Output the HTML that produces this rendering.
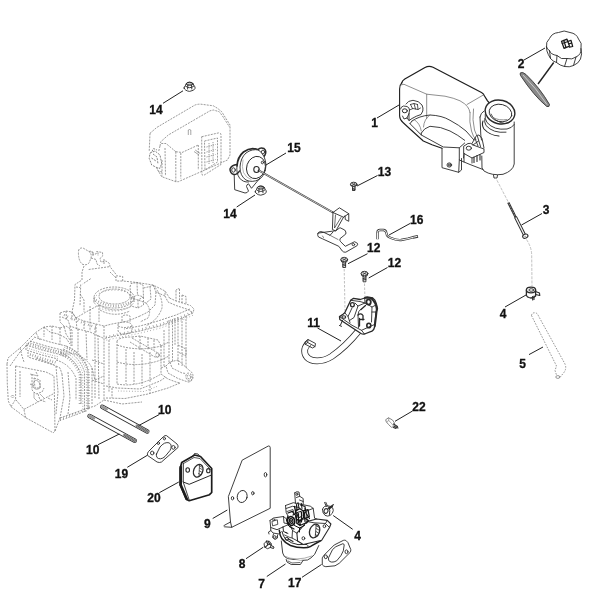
<!DOCTYPE html>
<html><head><meta charset="utf-8">
<style>
html,body{margin:0;padding:0;background:#fff;}
body{width:600px;height:600px;overflow:hidden;font-family:"Liberation Sans",sans-serif;}
svg{display:block}
.t{font-family:"Liberation Sans",sans-serif;font-weight:bold;font-size:12px;fill:#111;stroke:#111;stroke-width:0.3px;text-anchor:middle}
.ld{stroke:#222;stroke-width:1;fill:none}
.p{stroke:#2a2a2a;stroke-width:0.9;fill:none;stroke-linejoin:round;stroke-linecap:round}
.pw{stroke:#2a2a2a;stroke-width:0.9;fill:#fff;stroke-linejoin:round;stroke-linecap:round}
.pt{stroke:#222;stroke-width:1.5;fill:none;stroke-linejoin:round;stroke-linecap:round}
.d{stroke:#808080;stroke-width:0.8;fill:none;stroke-dasharray:2 1.1;stroke-linejoin:round}
.dl{stroke:#b0b0b0;stroke-width:0.8;fill:none;stroke-dasharray:2.5 1.5}
.g{stroke:#777;stroke-width:0.7;fill:none}
</style></head><body>
<svg width="600" height="600" viewBox="0 0 600 600">
<rect width="600" height="600" fill="#fff"/>

<!-- ENGINE -->
<g id="engine" class="d">
<!--ENG-->
<!-- Area A: crankcase top -->
<path d="M78.500 251 Q79 247.500 83 248 L89 251.500 Q92 254 91 258 L89 263 Q86 266 82 264 Q78 260 78.500 251 Z"/>
<path d="M89 251.500 L92 251 L92.500 254.500 L96 254 L96.500 251.500 L102.500 252.500 L102.700 256 L100 258.500 L101 262 L106 261 L109.500 263.500 L110 266.700 L117.300 276 L122.700 276.500 L122.700 281 L137 282.500 L153 285 L165 291 L169.500 298"/>
<path d="M88.700 269.500 L109.300 266.700 M91 258 L96 259.500 L97 264 L100 266 M93 252 L93 256 M98 252.500 L98 256 M104 259 L104 264"/>
<path d="M84 266 L82 272 L82 280 L75 284.500 L74.500 300 L72 312 L76 318"/>
<path d="M80.700 284.500 L80 306 M90.700 278.700 L82.700 284 M76 287 L80 287.500"/>
<path d="M116 276 L116 281 L122.700 281 M110 272 L116 278"/>

<!-- bearing ring -->
<ellipse cx="114" cy="297.500" rx="20" ry="10.500"/>
<ellipse cx="114.500" cy="296.500" rx="15.500" ry="7.500"/>
<ellipse cx="114" cy="300.500" rx="20" ry="10.500" stroke-dasharray="1 2.200"/>
<path d="M94 297.500 L94 303 M134 297.500 L134 302"/>
<path d="M99 305 Q113 314 131 306.500" />
<path d="M100 310 Q114 318 130 311" />
<!-- right box/boss -->
<path d="M130 287 L131 283.500 L137 282.500 L143 285 L143.500 297 L138 300 L131 298 Z M137 282.500 L137.500 295 L143.500 297 M131 298 L137.500 295"/>
<path d="M143.500 288 L150 286.500 L153 285 M150 286.500 L151 299 L146 303 L138 300"/>
<path d="M153 285 L156 292 L165 296 L165 291"/>
<path d="M156 292 L155 305 L148 312 L140 316"/>
<!-- right flange + posts -->
<path d="M169.500 298 L176 301 L190.500 305.500 L194 309 L193 313"/>
<path d="M176 290.500 L176 301 M179.500 289 L179.500 302 M176 290.500 L177.500 288.500 L179.500 289"/>
<path d="M182 295 L186 296.500 L186 304 M182 295 L182 303"/>
<path d="M165 296 L168 302 L176 305.500 L188 309.500 L193 313"/>
<!-- lower edge of crankcase with marks -->
<path d="M193 313 L180 319 L160 326 L140 331 L120 335 L104 338.500"/>
<path d="M193 313 L180 319 L160 326 L140 331 L120 335 L104 338.500" transform="translate(0 2.200)" stroke-dasharray="0.800 2.400"/>
<path d="M190 309 L176 315 L158 321 L140 326 L124 329"/>
<!-- left part of flange -->
<path d="M60 313 L66 311 L72 312 L76 318 L84 321 L96 324 L104 326"/>
<path d="M62 317 L68 320 L70 326 L78 329 L90 332 L104 338.500"/>
<path d="M66 311 L66.500 319 M72 312 L72 321"/>
<path d="M84 321 L84 329 M96 324 L96 333"/>
<path d="M76 318 L86 312 L99 305 M140 316 L128 321 L112 324 L104 326"/>
<!-- Area C: cylinder block -->
<path d="M118 325 Q118 322 125 322 Q132 322.500 132 326 L132 332 Q128 334.500 122 334 Q118 333 118 330 Z M118 326 Q124 329 132 326"/>
<path d="M104 326 L104 400 M95 328 L95 398 M109 340 L109 392"/>
<path d="M117 341 L117 384 M161 346 L161 374"/>
<path d="M117 341 Q119 337 132 337 M117 345 Q138 352 161 346 M132 337 L140 336 L158 340 L161 346"/>
<path d="M117 384 Q138 388 161 374"/>
<path d="M134 352 L134 384 M126 349 L126 384"/>
<path d="M132 338 L157 352.500 Q160 354.500 159 356.500 Q157 358 154 356.500 L130 342"/>
<ellipse cx="157.500" cy="355" rx="1.800" ry="2.200"/>
<!-- right post -->
<path d="M169 320 L169 364 M172.500 319 L172.500 362 M178 317 L178 360 M175 318 L175 345"/>
<!-- right-bottom boss -->
<path d="M166 366 L170 362 L178 360 L190 371 Q193.500 373 193 377.500 Q192 382 188 382 L178 378.500 L168 373 Z"/>
<ellipse cx="189" cy="377" rx="3" ry="4" transform="rotate(-20 189 377)"/>
<ellipse cx="189" cy="377" rx="1.500" ry="2.200" transform="rotate(-20 189 377)"/>
<path d="M170 362 L172 368 L182 373 L186 373.500 M178 360 L179 366"/>
<path d="M161 368 L166 366 M161 374 L168 379 L176 382 L180 383"/>
<!-- base flange -->
<path d="M106 386 L117 388 L140 389 L160 381 L166 377"/>
<path d="M106 398 L125 398.500 L148 394 L168 388 L180 383"/>
<path d="M104 400 L122 404 L142 402 M112 388 L112 398 M150 386 L150 393.500"/>
<path d="M118 391 L144 391.500 L158 386" stroke-dasharray="0.800 2"/>
<!-- Area B: head -->
<path d="M7 364 L8 358 L20 348 L35 333 L44 327 L52 326 L60 328"/>
<path d="M7 364 L7.300 384 L8.300 401 L11 406.700 L25.700 417.700 L40 425.500 L53.200 432.800 L55 431"/>
<path d="M10 366 L20 352 L34 338"/>
<path d="M15.600 366 L46 372 L54 376 L54.500 400 L55 431"/>
<path d="M15.600 366 L15.600 399.400 L23.900 409.400 L53.200 393.900 M11 406.700 L15.600 399.400 M25.700 417.700 L23.900 409.400"/>
<path d="M20 371 L20 397"/>
<!-- inner mechanism -->
<path d="M32 374 L32 390 L36 394 L42 392 L44 388 M34 378 L40 380 L40 388 L35 388 Z M36 372 L38 376 M30 384 L34 386"/>
<path d="M38 394 L40 400 L46 402 M48 398 L52 400" />
<!-- head fins top -->
<path d="M26 345 L42 350 L58 354 L66 357 M30 341 L46 346 L62 350 L70 353 M34 337 L50 342 L66 346"/>
<path d="M26 345 L26 350 L42 355 L58 359 M28 352 L28 357 L44 362 L54 365"/>
<path d="M26 345 L26 350 L42 355 L58 359" transform="translate(1 -2)" stroke-dasharray="0.800 1.600"/>
<path d="M30 341 L46 346 L62 350 L70 353" transform="translate(0.500 2)" stroke-dasharray="0.800 1.600"/>
<path d="M44 327 L44 337 M52 326 L52 340 M60 328 L60 345"/>
<path d="M20 348 L22 356 L24 362 M36 358 L52 364 L60 368 L62 374"/>
<!-- cylinder fins (curved) -->
<path d="M66 346 Q82 352 88 370 L88 410"/>
<path d="M63 349 Q79 355 84.500 372 L84.500 412"/>
<path d="M60 352 Q75 358 81 374 L81 404"/>
<path d="M66 346 Q82 352 88 370 L88 410" transform="translate(-1.600 1.400)" stroke-dasharray="0.800 1.800"/>
<path d="M63 349 Q79 355 84.500 372 L84.500 412" transform="translate(-1.700 1.500)" stroke-dasharray="0.800 1.800"/>
<path d="M70 353 Q86 356 92 368 L95 380"/>
<path d="M56 360 Q70 364 76 378 L76 400"/>
<!-- bottom of head with marks -->
<path d="M60 418 L74 413 L88 408"/>
<path d="M60 420.500 L74 415.500 L86 411" stroke-dasharray="1.200 1.800"/>
<path d="M55 431 L60 418"/>
<path d="M88 408 L95 406 L104 400"/>
<path d="M62 374 L64 396 L60 418"/>

<!--ENG2-->
<!-- extra density -->
<g stroke-dasharray="0.700 1.900" stroke-width="2.600" stroke="#8c8c8c">
<path d="M67 347.500 Q82.500 353.500 88.500 371 L88.500 409"/>
<path d="M61 354 Q75 360 80 375 L80 404"/>
<path d="M28 343.500 L44 348.500 L60 352.500 L68 355.500"/>
<path d="M30 354.500 L44 359 L56 362.500"/>
<path d="M60 419.500 L74 414.500 L87 409.500" stroke-dasharray="0.700 2.600"/>
<path d="M96 300 Q114 311.500 133 300.500" stroke-width="2.200"/>
<path d="M106 337 L122 333.500 L140 329.500 L160 324.500 L180 317.500 L192 312" stroke-width="2.200" stroke-dasharray="0.700 3"/>
<path d="M64 315 L72 318.500 L84 323.500 L98 328" stroke-width="2.200" stroke-dasharray="0.700 3"/>
</g>
<path d="M153 285 Q163 296 162 308 Q158 320 146 326"/>
<path d="M146 303 Q152 310 148 318 L140 322"/>
<path d="M131 298 L131 306 L138 308 L138 300 M143.500 297 L143.500 305 L138 308"/>
<path d="M122 321 L122 316 Q126 314 130 316 L130 322"/>
<path d="M99 305 L99 322 M90 306 L90 331"/>
<path d="M76 318 L77 330 M80 294 L84 300 L84 312"/>
<path d="M60 313 L60 322 L64 326 L66 334 L70 340"/>
<path d="M70 326 L71 346 M78 329 L78 352 M86 331 L87 360"/>
<path d="M98 335 L99 400 M92 380 L104 384 M92 360 L104 364"/>
<path d="M140 336 L140 350 M148 338 L148 350 M154 340 L154 350"/>
<path d="M117 362 Q138 368 161 360" />
<path d="M142 354 L142 386 M150 352 L150 383"/>
<path d="M161 346 L169 342 M161 360 L169 356 M164 330 L164 366"/>
<path d="M182 318 L182 366 M186 316 L186 368"/>
<path d="M178 345 L186 349 L186 356 L178 352"/>


<path d="M36 380 Q41 382 40 388 Q36 391 33 387 Q32 382 36 380 Z" stroke-dasharray="none" stroke-width="0.600"/>
<path d="M30 374 L38 376 M40 394 L44 398 M34 392 L34 398 L38 402" stroke-dasharray="none" stroke-width="0.600"/>
<path d="M12.500 395 L14 396.500 L12.500 398 L11 396.500 Z"/>

<path d="M56 366 L58 392 L56 414"/>
<path d="M68 372 L70 398 L68 414"/>
<path d="M92 368 L92 404 M95 380 L104 376"/>
<path d="M36 333 L40 340 M44 327 L50 332 L58 334 L66 338 L70 344"/>
<path d="M60 328 L66 326 L72 330 L72 346"/>
<!--/ENG2-->
<!--/ENG-->
</g>

<!-- MUFFLER -->
<g id="muffler" class="d">
<!--MUF-->
<path d="M150 133.300 L156.700 127.500 L195 105 Q198 104 201 104.200 L213.300 105.800 L217.500 108.300 L221.700 111.700 L230 125 L230 155 L227.500 160 L178.300 181.700 L175.800 181.700 L161.700 176.700 L158.300 170.800"/>
<path d="M150 133.300 L149.200 151.700"/>
<path d="M160 146 L160.800 141.700 L168.300 135 L210 110.800 L213.300 110 L219.200 111.700 L222.500 116 L229.500 127"/>
<path d="M175.800 151.700 L175.800 181.700 M175.800 151.700 L166 143.500 L160.800 143.500"/>
<path d="M175.800 151.700 L182 152.500 L198.300 145 M160 146 L158.500 152"/>
<path d="M180.800 153 L180.800 178.500 M198.300 145 L198.300 170"/>
<path d="M201.700 136.700 L219 132.800 Q221 133 221 135 L221 164.500 L203.500 175.500 Q201.900 175.500 201.900 173.500 Z"/>
<path d="M204.500 141 L217.500 138 L217.500 162 L205 170 Z"/>
<path d="M206.500 147 L215.500 144.500 M206.500 152 L215.500 149.500 M206.500 157 L215.500 154.500 M206.500 162 L215.500 159.500 M209 143 L209 165 M213 142 L213 163" stroke-dasharray="1.200 1"/>
<path d="M188.300 135 L188.300 130 Q189.500 129 190.800 130 L190.800 135" stroke-dasharray="none" stroke-width="0.700"/>
<path d="M194 151.500 L199 155 M195.200 150 L200.200 153.500" stroke-dasharray="none" stroke-width="0.700"/>
<path d="M150 153 L155 151 L160 155 L161.700 163.300 L160 168.300 L156.700 167.500 L151.700 165 L149.200 158.300 Z" stroke="#666"/>
<path d="M153 154 L157 157 L158 164 M151.500 158 L156 161" stroke="#666"/>
<path d="M156.700 167.500 L158 171 L162 172 M152 151.500 L153.500 148.500 L157 150" stroke="#666"/>
<path d="M165 148 L165.500 176 M162 160 L162 176.500"/>
<!--/MUF-->
</g>

<!-- PARTS -->
<g id="parts">
<!--TANK-->
<!-- TANK 1 -->
<g id="tank" class="p">
<!-- outer silhouette -->
<path d="M401.700 83 Q402.300 80.500 404.800 79 L425 67.500 Q429 65.300 433 67.300 L481.500 92.500 Q483.500 93.500 484.500 96 L487.500 100.800 L489 102.500" stroke-width="1.250" stroke="#1e1e1e"/>
<path d="M401.700 83 Q399.600 85 399.600 89 L399.600 116 Q399.800 120 403 122.500 L410 129 L423.300 141 L432 144.700 L442 148.300" stroke-width="1.100" stroke="#1e1e1e"/>
<!-- inner top-face front edge -->
<g stroke="#6a6a6a" stroke-width="0.750">
<path d="M400.500 85 L404 84.300 L426.700 94.200 L445 96.200 Q454 98 460 100.800 Q465 103.500 467.500 106.700 Q469.500 109.500 470 112.500"/>
<path d="M426.700 94.200 L426.700 118.300"/>
<path d="M467 104.500 L483.300 95"/>
<path d="M470 112.500 Q469 122 471.500 131 Q473 137 476 139.500"/>
<path d="M473.500 109 Q472 120 474.500 130 L477 136"/>
</g>
<!-- arch cutout -->
<path d="M412 121 Q419 116 430 115 Q442 115.500 450 120.300 Q459 125 466 131 L474 140"/>
<path d="M421.300 133 Q424 128 430 126.300 Q441 126.500 450 131 Q458 135 464.700 140.300"/>
<path d="M410 123.700 L421.300 135 L443.300 147 L459.300 147.800 L464.700 143"/>
<path d="M412 121 L410 123.700 M421.300 133 L421.300 135"/>
<path d="M414 119.500 Q420 123 421.300 131 M430 115 Q424 119 423.500 127" stroke-width="0.700" stroke="#666"/>
<!-- left ear -->
<path d="M400.500 109 Q401 106.500 403.500 106 L407 106.500 Q409.500 107.500 409.500 110 L409 113.500 L407 118 L404 119 L402.500 116"/>
<ellipse cx="404.800" cy="110.800" rx="2.500" ry="2" stroke-width="1"/>
<path d="M406 104 Q408 100.500 413 100.300 Q419 100.800 422 105 Q423.500 108 422.800 111 L421 114.500 Q416 116 412 118.500 L409 120.500 L407 118"/>
<path d="M409.500 110 L413 108.500 L418 109.500 L420.500 108 M410.500 104.500 L412.500 108.500 M414 103.500 L415.500 109 M417.500 104.500 L418 109.500 M410.500 104.500 L414 103.500 L417.500 104.500" stroke-width="0.800"/>
<path d="M409 113.500 L409 120.500" />
<!-- right ear -->
<path d="M464 146 L468 143.500 Q471 142.500 473 145 L484 149 L484 152.500 L472 158 L464 153.500 Z" fill="#fff"/>
<ellipse cx="468.800" cy="148.200" rx="2.600" ry="2"/>
<path d="M472 143.500 L476.500 135.500 L479 135 L482 138.500 L484 148"/>
<path d="M475 138.500 L478 146 M477.500 136.500 L480.500 146.500 M473 145 L478.500 141"/>
<path d="M474 157 L474 162.500 M477 155.500 L477 161.500 M480 154.500 L480 160" stroke-width="1.100"/>
<path d="M464 153.500 L463.500 158 M472 158 L472 163"/>
<!-- lower bracket -->
<path d="M442 148.300 L442 167.700 L458.700 172.300 L459.300 160"/>
<path d="M458.700 172.300 L461.500 170 L461.500 158.500"/>
<ellipse cx="449.300" cy="165" rx="2.300" ry="2.100"/>
<ellipse cx="449.300" cy="165" rx="1.100" ry="0.900"/>
<path d="M459.300 147.800 L459.300 160 L470 164.500 L483 169.500"/>
<path d="M464 153.500 L464 162"/>
<!-- neck cylinder body -->
<path d="M480 117 L480.800 135 L481.500 140"/>
<path d="M514.200 122 L514.200 164 Q513 171 503 174.300 Q492 176 484 171 L482 168 L481.800 156"/>
<!-- nipple -->
<path d="M493.500 175 L494 178 L497 178 L497.500 175.200"/>
<!-- filler neck -->
<ellipse cx="500" cy="112" rx="15" ry="11.800" transform="rotate(14 500 112)" stroke-width="1.400"/>
<ellipse cx="500.500" cy="113" rx="11.500" ry="8.600" transform="rotate(14 500.500 113)"/>
<path d="M491 114 Q494 122 505 123.500 Q509 123.500 511.500 121" stroke-width="0.800"/>
<path d="M493 117.500 Q499 121 507 119.500" stroke-width="0.700" stroke="#666"/>
<path d="M485.200 114.500 Q484.500 119 487 122.500 Q494 130.500 507 129 Q512 128 514.200 124.500"/>
<path d="M484.800 118.500 Q484 122 486 125.500 Q493 133.500 506 132.200"/>
<path d="M483 121 Q481.500 125 484 129 Q490 135.500 499 136" stroke-width="1.100"/>
<path d="M480 117 Q480.500 113 484 111"/>
</g>
<!-- CAP 2 -->
<g id="cap" class="p" stroke-width="1.150">
<path d="M546.500 47 Q545.500 42 549.500 38.500 Q552 33 558.500 32.500 Q564 29.500 570 32.500 Q576.500 33.500 578.500 39 Q582.500 43 581 48.500 Q581.500 54.500 576 57 Q572 60 567 58.500 Q561 60 557 55.500 Q550.500 54.500 549.500 50.500 Q547 49.500 546.500 47 Z"/>
<path d="M546.500 47 Q546.300 51 548.300 54.500 L550.500 58.500 Q553 61.500 556.500 62.500 Q560 65.500 564.500 66.500 Q569.500 67.500 573.500 65.500 Q578.500 63.500 580.500 59 Q582.500 54 581 48.500"/>
<path d="M549.500 50.500 L550.500 58.500 M557 55.500 L556.500 62.500 M567 58.500 L564.500 66.500 M576 57 L573.500 65.500" stroke-width="0.900"/>
<g stroke-width="1.250" stroke="#1a1a1a"><path d="M561.500 41.300 L567 39.200 L569.500 46.200 L564 48.300 Z"/><path d="M563.800 40.500 L566 47.500 M562.300 43.500 L568 41.500 M567.500 41.500 L571 40.300 L572.700 46.500 L569.500 47.200 M569 43.800 L571.700 43"/></g>
</g>
<!-- CAP GASKET -->
<g id="capgasket">
<path d="M520.500 72.800 Q522.500 71.500 526 74.500 Q540 88 549.500 104.500 Q549.500 107.500 546.800 106.500 Q534 96 520.500 75.500 Q519.800 73.800 520.500 72.800 Z" fill="#8a8a8a" stroke="#333" stroke-width="0.9"/>
<path d="M523 75 Q536 88 547 104.500" stroke="#ddd" stroke-width="0.8" fill="none"/>
</g>
<!--/TANK-->
<!--MID-->
<!-- NUT 14 top -->
<g id="nut14a" class="p" stroke="#1c1c1c" stroke-width="1.150" transform="translate(189.6 86.8)">
<path d="M-5.500 1.300 Q-5.600 -0.200 -4.300 -1 L-3.600 -3 Q-2 -4.700 0 -4.700 Q2.300 -4.600 3.600 -3 L4.400 -1 Q5.700 -0.200 5.500 1.500 Q5 3.800 0 4.600 Q-4.800 4 -5.500 1.300 Z" fill="#fff"/>
<ellipse cx="0" cy="-2.900" rx="3.400" ry="1.500" stroke-width="0.900"/>
<path d="M-1.800 -1.600 L-2 2.200 M1.900 -1.600 L2.200 2.200" stroke-width="0.900"/>
<path d="M-4.300 -0.800 Q0 2.800 4.400 -0.800" stroke-width="0.900"/>
<path d="M-2 -2.500 L2 -2.700" stroke-width="0.800"/>
</g>
<!-- NUT 14 low -->
<g id="nut14b" class="p" stroke="#1c1c1c" stroke-width="1.150" transform="translate(260.8 190.6)">
<path d="M-5.500 1.300 Q-5.600 -0.200 -4.300 -1 L-3.600 -3 Q-2 -4.700 0 -4.700 Q2.300 -4.600 3.600 -3 L4.400 -1 Q5.700 -0.200 5.500 1.500 Q5 3.800 0 4.600 Q-4.800 4 -5.500 1.300 Z" fill="#fff"/>
<ellipse cx="0" cy="-2.900" rx="3.400" ry="1.500" stroke-width="0.900"/>
<path d="M-1.800 -1.600 L-2 2.200 M1.900 -1.600 L2.200 2.200" stroke-width="0.900"/>
<path d="M-4.300 -0.800 Q0 2.800 4.400 -0.800" stroke-width="0.900"/>
<path d="M-2 -2.500 L2 -2.700" stroke-width="0.800"/>
</g>
<!-- PART 15 -->
<g id="p15" class="p">
<!-- ears -->
<path d="M237 164.500 Q231.500 165 230 169 Q230 173.500 234 174.500 Q237.500 174.500 239.500 171" stroke-width="1.500"/>
<ellipse cx="233.500" cy="170" rx="1.800" ry="2.200"/>
<path d="M258 149.500 Q260.500 147 264 148.500 Q267 151 265 155 L263.500 157" stroke-width="1.500"/>
<ellipse cx="263" cy="152" rx="1.600" ry="1.900"/>
<!-- rim thick -->
<path d="M237 166 Q237.500 157 243.500 152 Q251 146.500 258.500 150" stroke-width="1.700"/>
<path d="M237 166 Q236 173 239.500 178 Q243 182.500 248.500 182"/>
<!-- face -->
<path d="M258.500 150 Q265.500 155 266 165 Q265.500 175.500 259 179.500 Q252 183 246 180 Q240 176 240 167 Q240.500 158 246 153 Q252 148.500 258.500 150 Z" fill="#fff"/>
<ellipse cx="256" cy="167.500" rx="9.300" ry="11.300" transform="rotate(18 256 167.500)"/>
<path d="M243 160 Q241.500 167 243.500 172.500 Q246 178 251 179.500" stroke="#888" stroke-width="0.600"/>
<ellipse cx="256.500" cy="169.500" rx="2.700" ry="3" stroke-width="1.100"/>
<ellipse cx="262.400" cy="162.500" rx="1.100" ry="1.300"/>
<!-- bracket below -->
<path d="M234.200 175 L234.700 189.700 L245 193 Q247.500 193 248.500 191 L246.500 186.500 Q246.500 184.500 248.500 183.800 L251.500 188.300 L260 178"/>
</g>
<!-- ROD -->
<g id="rod">
<path d="M258 170 L333 212.500" stroke="#2a2a2a" stroke-width="2" fill="none"/>
<path d="M259 170.600 L332.500 212.200" stroke="#eaeaea" stroke-width="0.800" fill="none"/>
</g>
<!-- CLIP + BRACKET -->
<g id="bracket" class="p">
<path d="M333 212.500 L339.400 207.800 L348.750 213.700 L348.750 221.300 L345.300 219.500 L345 215.800"/>
<path d="M333 212.500 L343.500 217.200 L348.750 213.700"/>
<path d="M333 212.500 L332.400 229.500 L335.800 231 L343.500 217.200"/>
<path d="M335.500 215 L334.500 228 L341 217.500" stroke-width="0.700"/>
<path d="M317.800 233.500 Q318.500 231.500 321 231.600 L323.700 232.300 L330 235.300 L333 232 M336 230.500 L340 227.700 L344.700 230 Q346.500 232 345.800 234 L340 238.700 Q339.500 240.500 340.600 241.700 L345.300 246.300 L354.600 241.700 L357.500 243.400 Q358 245 356.900 245.800 L345.800 252.200 Q343.500 252.500 342.300 251 L338.800 246.300 L322.500 238.800 L318.500 237 Q317.200 235.500 317.800 233.500 Z"/>
<path d="M330 235.300 L338 239.500 M322.500 236 L323.500 237.500" stroke-width="0.600"/>
<ellipse cx="353.400" cy="244.600" rx="1.300" ry="1.100"/>
</g>
<!-- WIRE 16 -->
<g id="wire16">
<path d="M377.500 239.300 L377.500 232.500 Q377.500 230 380 230 L383.500 230 Q385.800 230.200 386.300 232.500 L387 235.300 Q388 237 391 238 Q396 240.300 401 240 L408 238.700 L413.500 237.200" stroke="#333" stroke-width="2.300" fill="none" stroke-linejoin="round"/>
<path d="M413 237.300 L418 236.300" stroke="#333" stroke-width="2.900" fill="none"/>
<path d="M377.500 239.300 L377.500 232.500 Q377.500 230 380 230 L383.500 230 Q385.800 230.200 386.300 232.500 L387 235.300 Q388 237 391 238 Q396 240.300 401 240 L408 238.700 L413.500 237.200 L417.300 236.400" stroke="#fff" stroke-width="0.950" fill="none" stroke-linejoin="round"/>
</g>
<!-- SCREWS -->
<g id="screws" class="p" stroke="#1c1c1c" stroke-width="1.150">
<g id="s13"><ellipse cx="353.700" cy="184.300" rx="3.300" ry="2.100" fill="#ddd"/><path d="M352 183.500 L355.500 185 M355 183.300 L352.500 185.200" stroke-width="0.700"/><path d="M350.500 185 Q353.500 188 357 185 M352.500 187 L352.500 190.500 L355 190.500 L355 187 M352.500 188.500 L355 188 M352.500 190 L355 189.500" /></g>
<g id="s12a"><ellipse cx="344.200" cy="259.500" rx="3.400" ry="2.200" fill="#ddd"/><path d="M342.500 258.700 L346 260.300 M345.700 258.500 L342.800 260.500" stroke-width="0.700"/><path d="M340.800 260 Q340.800 262.500 344.200 263 Q347.600 262.500 347.600 260 M342.800 263 L342.800 267.500 L345.600 267.500 L345.600 263 M342.800 264.500 L345.600 264 M342.800 266 L345.600 265.500"/></g>
<g id="s12b"><ellipse cx="364.500" cy="273.500" rx="3.400" ry="2.200" fill="#ddd"/><path d="M362.800 272.700 L366.300 274.300 M366 272.500 L363.100 274.500" stroke-width="0.700"/><path d="M361.100 274 Q361.100 276.500 364.500 277 Q367.900 276.500 367.900 274 M363.100 277 L363.100 281.800 L365.900 281.800 L365.900 277 M363.100 278.500 L365.900 278 M363.100 280 L365.900 279.500"/></g>
</g>
<path class="dl" d="M344.200 269 L345 311 M364.500 283.500 L365 301"/>
<!--/MID-->
<!--VALVE-->
<!-- PART 11 valve + hose -->
<g id="hose11">
<path d="M358.500 331 C 352 339, 341 350, 331.500 356.500 C 322 362.500, 311 362, 306.800 357 C 303 352, 304.500 346.500, 309 343" stroke="#2a2a2a" stroke-width="6.800" fill="none" stroke-linecap="butt"/>
<path d="M359 330.500 C 352 339, 341 350, 331.500 356.500 C 322 362.500, 311 362, 306.800 357 C 303 352, 304.500 346.500, 309.500 342.600" stroke="#fff" stroke-width="5.200" fill="none" stroke-linecap="butt"/>
<path class="p" d="M305.500 341.500 L308 339.500 L315.500 343.500 L315 346.500 L312.500 348 L305.200 344.200 Z" fill="#fff"/>
<path class="p" d="M308 339.500 L307.700 342.500 L315 346.500 M307.700 342.500 L305.200 344.200"/>
</g>
<g id="valve11" class="p" stroke="#1c1c1c" stroke-width="1.150">
<path d="M350.700 300.300 L353.500 298.300 L360.300 299.500 L364.700 298 L368.700 298 L373.200 298.500 Q375 299.500 375.500 301.500 L376.500 304.500 L377.500 308.700 L376 312.500 L375.300 319.500 L374.600 327 Q374 330 372 331.200 L364.500 334 Q362.500 334.300 361 333.500 L339.800 319.500 L339.500 316.600 L343 314.300 L344.800 312.800 Z" fill="#fff" stroke-width="1.300"/>
<path d="M339.500 316.600 L352 325.300 L361.500 330.300 L364.500 334 M361.500 330.300 L374.500 324.500"/>
<path d="M344.800 312.800 L348 316.500 L352 308 M355 303 L358 306 L354 317.500 L349.500 320.500 M348 316.500 L350 322.500"/>
<path d="M358 306 L365 303 L372 307 L371.500 322 M365 303 L364.700 298 M361 309 Q358 311 358 315 L358.500 327.500"/>
<path d="M358 315 Q361 312.500 363 315.500 L363 320" stroke-width="1.300"/>
<path d="M372 307 L376 305 M372 312 L376 312" />
<path d="M359.500 318.500 L359.500 326 M359.500 319.500 L364 319.300 M361 309.500 L365.500 305.500" stroke-width="1.300"/>
<ellipse cx="352.400" cy="304.800" rx="1.900" ry="2.100" stroke-width="1.300"/>
<ellipse cx="368.600" cy="302" rx="2.200" ry="2.600" stroke-width="1.800"/>
<ellipse cx="368.800" cy="325.500" rx="2" ry="2.300" stroke-width="1.600"/>
<ellipse cx="343.800" cy="317" rx="1.900" ry="1.300" stroke-width="1.100"/>
<path d="M342.500 320.500 L340.500 325 M339.500 325.500 L341.500 326.300" stroke-width="1"/>
<path d="M371.500 298.500 Q376 302.500 376.800 309 L375.800 318 L374.800 326" stroke-width="2"/>
<path d="M364.700 298 Q366 296.800 368.700 297.200 L372.500 298" stroke-width="1.600"/>
<path d="M350.700 300.300 L360 301.500 L365 303" stroke-width="0.900"/>
</g>
<!--/VALVE-->
<!--RIGHT-->
<!-- guide lines right -->
<path d="M495 176.500 L508 201.500 M526.500 239.500 Q531.500 247 531.700 255 L532 286" stroke="#b2b2b2" stroke-width="0.800" fill="none" stroke-dasharray="3 1.2"/>
<!-- PART 3 tube -->
<g id="p3">
<path d="M508.300 202.500 L516 218" stroke="#2a2a2a" stroke-width="2.300" fill="none"/>
<path d="M508.300 202.500 L516 218" stroke="#eee" stroke-width="0.700" fill="none" stroke-dasharray="0.900 0.900"/>
<path d="M515.500 217 L524.800 235.500" stroke="#2a2a2a" stroke-width="3.100" fill="none"/>
<path d="M515.800 217.500 L524.500 235" stroke="#f4f4f4" stroke-width="1.300" fill="none"/>
<ellipse cx="525.300" cy="236.200" rx="2.700" ry="2" fill="#fff" stroke="#2a2a2a" stroke-width="1.100" transform="rotate(-20 525.300 236.200)"/>
<ellipse cx="525.300" cy="236.400" rx="1.100" ry="0.700" fill="#aaa" stroke="none"/>
</g>
<!-- CLAMP 4 upper -->
<g id="c4a" class="p">
<ellipse cx="531" cy="290" rx="4.600" ry="2.800" fill="#fff" stroke-width="1.300"/>
<ellipse cx="531.300" cy="290" rx="2.400" ry="1.300"/>
<path d="M526.400 290 L526.400 295 Q526.800 297.500 531 298 Q534 297.800 535.600 296 L535.600 290" stroke-width="1.300"/>
<path d="M535.600 291.500 L539.500 293 L539.800 295.500 L535.600 294.500 M532.500 296.500 L532.700 300 M534 296 L534 299.500" stroke-width="1.100"/>
</g>
<!-- HOSE 5 dashed -->
<g id="h5" stroke="#8a8a8a" stroke-width="0.900" fill="none" stroke-dasharray="1.600 1.300">
<path d="M531.500 315.500 Q532 312.500 535 312.800 Q537.500 313 538.500 316 L565 364 Q567 369 563.500 373 L559.500 378"/>
<path d="M531.500 315.500 L556.500 366 L555 370.500 L556.500 375"/>
<ellipse cx="557.800" cy="377" rx="2" ry="1.400" stroke-dasharray="none" stroke="#888"/>
</g>
<!-- PART 22 -->
<g id="p22" class="p" stroke-width="0.800">
<path d="M386 419.500 L388.500 417.800 L392.500 420 L394.500 423 L394 426.500 L391.500 427.300 L388.500 424.500 L386.500 422 Z" stroke="#777"/>
<path d="M388.500 417.800 L388.800 420.500 L391.500 423.500 L394 426.500 M388.800 420.500 L386.500 422" stroke="#888" stroke-width="0.700"/>
<path d="M393.500 424 L397.500 426.500 M394.500 426.500 L398 428 M393.500 427.500 L396 428.500" stroke="#333" stroke-width="1.200"/>
</g>
<!--/RIGHT-->
<!--BOT1-->
<!-- STUDS 10 -->
<g id="studs">
<path d="M102.2 406.8 L147.3 431.5" stroke="#2a2a2a" stroke-width="4.400" fill="none" stroke-linecap="round"/>
<path d="M102.2 406.8 L147.3 431.5" stroke="#fff" stroke-width="2.700" fill="none" stroke-linecap="round"/>
<path d="M136.8 425.7 L147.7 431.7" stroke="#9a9a9a" stroke-width="2.700" fill="none" stroke-linecap="round"/>
<path d="M101.8 406.6 L106.6 409.2" stroke="#9a9a9a" stroke-width="2.700" fill="none" stroke-linecap="round"/>
<path d="M136.8 425.7 L147.7 431.7" stroke="#555" stroke-width="2.700" fill="none" stroke-dasharray="0.600 0.900"/>
<path d="M89.5 416.0 L134.8 440.8" stroke="#2a2a2a" stroke-width="4.400" fill="none" stroke-linecap="round"/>
<path d="M89.5 416.0 L134.8 440.8" stroke="#fff" stroke-width="2.700" fill="none" stroke-linecap="round"/>
<path d="M124.3 435.0 L135.2 441.0" stroke="#9a9a9a" stroke-width="2.700" fill="none" stroke-linecap="round"/>
<path d="M89.1 415.8 L93.9 418.4" stroke="#9a9a9a" stroke-width="2.700" fill="none" stroke-linecap="round"/>
<path d="M124.3 435.0 L135.2 441.0" stroke="#555" stroke-width="2.700" fill="none" stroke-dasharray="0.600 0.900"/>
</g>
<!-- GASKET 19 -->
<g id="g19" class="p" stroke="#3a3a3a" stroke-width="0.950">
<path d="M147.400 455 Q147 453 148.500 451.500 L163.500 436.500 Q165 435.200 166.500 435.600 L177 444 Q178.500 445.800 178 447.500 L161.500 462 Q159.500 463 157.500 462.200 Z"/>
<path d="M156.500 454 L160 447 Q162 444.500 164.500 443.200 Q167 442.200 169 442.800 Q171.300 444 171.200 446 Q171.200 448.500 170 450.500 L165 456.500 Q163 458.500 160.500 458.800 Q158 458.800 157 457.500 Q156 456 156.500 454 Z"/>
<ellipse cx="152.200" cy="453" rx="1.700" ry="1.900"/>
<ellipse cx="173.400" cy="447.400" rx="1.700" ry="1.900"/>
<ellipse cx="158.400" cy="443.200" rx="1.100" ry="1.300"/>
<ellipse cx="164.400" cy="438.600" rx="1.100" ry="1.300"/>
</g>
<!-- INSULATOR 20 -->
<g id="i20" class="p">
<path d="M181.700 462.500 L192.200 456.500 L194.500 455 L200.500 456.500 L211.700 468.500 L211.700 492.500 L209.500 494.700 L189.200 500.700 L186.200 499.200 L180.200 485 L180.200 468.500 Z" stroke="#1c1c1c" stroke-width="1.700" fill="#fff"/>
<path d="M180.700 467 L180.700 485 L186.800 499" stroke="#1c1c1c" stroke-width="2.600"/>
<path d="M183.300 463.500 L183.200 482 L189.200 484.300 L211.500 475" stroke-width="1"/>
<path d="M183.200 482 L189.200 500" stroke-width="0.900"/>
<path d="M183.500 463.500 L194 457.500 L200 458.500 L210.500 469.500" stroke-width="0.800"/>
<path d="M194 455 L194.500 453.500 L198 454 L200 456.500" stroke-width="0.900"/>
<ellipse cx="198.200" cy="470.700" rx="4.500" ry="6.600" transform="rotate(22 198.200 470.700)" stroke-width="1.300"/>
<path d="M199 465.500 L201.500 467 M199.500 468 L202 469.500 M199.300 470.800 L201.800 472.200 M198.500 473.500 L200.800 474.800 M199.500 464.500 L199 476" stroke-width="0.700"/>
<ellipse cx="187.700" cy="470" rx="1.800" ry="2.200" stroke-width="1.100"/>
<ellipse cx="208.300" cy="470.700" rx="1.700" ry="2.100" stroke-width="1.100"/>
</g>
<!--/BOT1-->
<!--BOT2-->
<!-- PLATE 9 -->
<g id="plate9" class="p" stroke-width="1.050">
<path d="M242.500 460 L268.300 446 Q270 445.600 270.200 447.500 L270.200 508.300 L231.700 527.300 L224.500 526.800 Q223.300 526.300 224.300 525.300 L230.500 522 L228.400 497 Z" fill="#fff"/>
<path d="M230.500 522 L231.700 527.300"/>
<ellipse cx="242.200" cy="496.500" rx="4.900" ry="6.100" transform="rotate(15 242.200 496.500)"/>
<ellipse cx="232.500" cy="498.200" rx="1.200" ry="1.700"/>
<ellipse cx="252.800" cy="493.200" rx="1.200" ry="1.700"/>
<ellipse cx="265.500" cy="474.700" rx="1.300" ry="2.200"/>
</g>
<!-- SCREW 8 -->
<g id="s8" class="p" stroke="#151515" stroke-width="1.300">
<path d="M264.300 543.500 L266.500 541 L269.500 541.300 L271.300 544 L270.300 547.500 L267.500 548.700 L265 547.300 Z" fill="#fff"/>
<path d="M266.500 541 L267.800 544.800 L265 547.300 M267.800 544.800 L271.300 544 M268.500 541.500 L269.500 544.500" stroke-width="1.100"/>
<path d="M270.800 545.300 L274 547 L273.500 548.500 L270.300 547.500" stroke-width="1"/>
</g>
<!-- CLAMP 4 lower -->
<g id="c4b" class="p" stroke="#1a1a1a" stroke-width="1.400">
<path d="M322.500 509.500 Q322.300 513 325 515.300 Q327.500 516.800 330 515.500 Q333 513.500 333.300 510.500 Q333.300 507.500 331 506.500 Q327 505 324.500 506.500 Q322.700 507.700 322.500 509.500 Z" fill="#fff"/>
<ellipse cx="326" cy="511" rx="1.900" ry="2.400" transform="rotate(20 326 511)" stroke-width="1.100"/>
<path d="M329 507 Q330.500 510 329.500 514.500" stroke-width="1"/>
<path d="M324.600 502.500 L326.300 506.500 M325.800 502.300 L327.500 506.200" stroke-width="0.900"/>
<path d="M333.300 504.700 L328 508.500 M332.500 506.500 L329.500 508.700" stroke-width="1.200"/>
</g>
<!-- GASKET 17 -->
<g id="g17" class="p" stroke="#2e2e2e" stroke-width="1">
<path d="M322.500 557.500 L324.200 555 L334.200 545 L343.300 540.400 Q344.600 540 345.800 540.400 L347.900 542.500 L350.800 549.600 Q351 551.200 350 552.500 L339.200 563.300 L335 565.800 L325.800 566.700 Q323.500 566.500 322.500 565 Z"/>
<path d="M328.700 557.500 L332.500 549.600 L335.800 546.700 L342.900 543.700 Q344 543.800 344.200 545 L343.300 550.800 L340.800 555.800 L336.700 560.800 Q334 562.300 331.700 562.100 Q329 561.800 328.700 560.400 Z"/>
<ellipse cx="325.800" cy="556.800" rx="1.600" ry="1.900"/>
<ellipse cx="346.500" cy="551.800" rx="1.500" ry="1.900"/>
</g>
<!-- CARB 7 -->
<g id="carb" class="p" stroke-width="0.950">
<!-- bowl body -->
<path d="M281.300 541 L282.700 553 Q283.500 557 287.700 558.700 L300 560.500 L307.500 560 Q311 558.500 314.600 554.400 L318.800 545.500" fill="#fff"/>
<path d="M286.200 559.500 L287 562 L291.200 564.500 L300.400 564.500 L303 560.500" fill="#fff"/>
<path d="M288 561 L292 563 L300 562.500" stroke-width="0.700"/>
<path d="M284 556 Q296 562 312 556" stroke-width="0.600" stroke="#777"/>
<!-- bowl rim band (thick) -->
<path d="M279.300 530.300 Q279.500 535 282 538.800 Q285 543 290.500 545.500 Q298 548.300 307.500 547.600 L311 546.200 L321 540.500" stroke-width="1.500" stroke="#1c1c1c"/>
<path d="M282 531.500 Q283 536.500 286 539.500 Q291 543.500 298 544.600 L306.500 544.500" stroke-width="1"/>
<path d="M306.500 544.500 Q309 545 307.500 547.600"/>
<!-- left flange -->
<path d="M270 520.400 L273.500 518 L283.500 516.500 L286 518.500 M270 520.400 L270.700 527.500 L277 529.700 L283 527"/>
<path d="M270.700 527.500 L270.700 530.300 L273 533 L279 534 L281 532"/>
<path d="M272.300 521.300 L277.300 519.800 L277.800 524.300 L273 525.800 Z" stroke-width="0.800"/>
<ellipse cx="273.700" cy="519.800" rx="1.200" ry="0.900" stroke-width="0.700"/>
<path d="M271 530.500 L268.500 532 L269 534 M273.500 534 L272.500 537.500 L275 539.500 L277.500 538 L277.500 535" stroke-width="0.900"/>
<ellipse cx="274.800" cy="537" rx="1.300" ry="1.400" stroke-width="0.800"/>
<!-- upper body -->
<path d="M285.500 505.500 L293.300 502.700 L310.300 506.200 L313.200 508.400 L314.600 518.300 L316.700 519 M285.500 505.500 L286.200 512.600 L288 516"/>
<path d="M286 508.500 L292.500 506.300 L299 507.500 M313.200 508.400 L306.500 511 L307 521"/>
<path d="M287 511.500 L293 509.500 L294 513" stroke-width="0.800"/>
<!-- top lever -->
<path d="M294.700 492.800 Q296.500 491 299 492 L299.700 496.300 L303.200 498.500 L303.200 504 M294.700 492.800 L295.500 503.200 M296.500 497.500 L299.700 496.300 M299.500 500 L303.200 501.500"/>
<ellipse cx="296.900" cy="494.200" rx="1" ry="1.200"/>
<!-- mounting flange right -->
<path d="M316.700 519 L327.300 520.400 L330.900 524 L329.500 527.500 L321.700 540.200 L303.200 544.500 L297.600 541 L296.900 533.200 L307 521.500 Z" fill="#fff" stroke-width="1.100"/>
<path d="M327.300 520.400 L325.500 523.500 L329.500 527.500 M325.500 523.500 L314 522.800 L307 521.500" stroke-width="0.900"/>
<ellipse cx="314.600" cy="531" rx="4.900" ry="7" transform="rotate(20 314.600 531)" stroke-width="1.300"/>
<path d="M315.800 525.500 L318.300 527 M316.200 528.500 L318.800 530 M316 531.500 L318.400 533 M315.300 534.500 L317.400 535.800 M316.200 524.500 L315.200 537.500" stroke-width="0.800"/>
<ellipse cx="325.900" cy="523.200" rx="1.300" ry="1.500" transform="translate(-1.500 3)"/>
<ellipse cx="303.400" cy="538.300" rx="1.400" ry="1.600"/>
<path d="M296.900 533.200 L292.500 530.500 L292 538 L297.600 541"/>
<!-- mid body -->
<path d="M283 527 L289.500 524 L292.500 530.500 M283.500 516.500 L284 523 L289.500 524"/>
<path d="M284.500 535 L290 537.500 L292 538 M285.500 532.500 L288 533.500" stroke-width="0.800"/>
<ellipse cx="286.800" cy="538.800" rx="1.700" ry="1.400" stroke-width="1"/>
<path d="M288.500 539 L293 541.500" stroke-width="1.100"/>
<!-- dark central mechanism -->
<g stroke="#151515" stroke-width="1.300">
<ellipse cx="291.200" cy="521" rx="3.500" ry="4.400" transform="rotate(-15 291.200 521)" stroke-width="1.600"/>
<ellipse cx="291.200" cy="521" rx="1.700" ry="2.400" transform="rotate(-15 291.200 521)" stroke-width="1.200"/>
<path d="M288.500 518 L294 524.500 M293.800 518 L288.800 524" stroke-width="0.900"/>
<path d="M295.800 510.500 L300 508.700 L303.300 511 L303.800 517.500 L300 520.500 L296.500 519.500 Z" stroke-width="1.400"/>
<path d="M297.300 512.500 L301 511.300 L302 516.300 L298.500 517.800 Z" stroke-width="1"/>
<path d="M294.500 506.500 L296 513.500 L293 515 M303.300 511 L308 509.700 L309.300 516.500 L304 519"/>
<path d="M296.500 523 L300 525.500 L305.500 523 M300 520.500 L300 525.500 M303.800 517.500 L308.500 520.500 L306.500 523"/>
<path d="M288 513 L292.300 511.300 L294.500 514.500"/>
<path d="M298 502.500 L299 508 M301.300 503.300 L302 508.500 M305 508.500 L305.500 513 M299 521.500 L303 519.500" stroke-width="1"/>
<path d="M294.500 525.500 L299.500 528 L304.500 525.500 M299.500 528 L299.500 532" stroke-width="1"/>
</g>
<g stroke="#151515" stroke-width="1.200" fill="none" stroke-linecap="round">
<path d="M298.500 513.500 L298.500 523 M301.500 512 L301.500 522 M304.500 512.500 L305 521.500"/>
<path d="M295.500 515.500 L297 522.500 M306.500 514 L309.500 518.500"/>
<path d="M289.500 526.500 L294 529 M288 516 L286.500 520 L288.500 525.500"/>
<path d="M300.500 505 L305 506.500 L305.500 510 M296.500 504.500 L297 510"/>
<path d="M283 527 L283.500 531.500 L287 533" stroke-width="0.900"/>
</g>
</g>
<!--/BOT2-->
</g>

<!-- LEADERS -->
<g id="leaders" class="ld">
<line x1="377" y1="118" x2="399" y2="105"/>
<line x1="524" y1="60" x2="545" y2="48"/>
<line x1="553.7" y1="62.5" x2="538" y2="84" stroke-width="1.4"/>
<line x1="542" y1="213.500" x2="521.500" y2="225"/>
<line x1="505" y1="307" x2="526" y2="295"/>
<line x1="529" y1="354.6" x2="543" y2="347"/>
<line x1="377.5" y1="175.5" x2="357" y2="186"/>
<line x1="163" y1="103.300" x2="183" y2="90.800"/>
<line x1="286" y1="153" x2="266" y2="165"/>
<line x1="236.7" y1="207" x2="255" y2="195"/>
<line x1="410" y1="223.500" x2="389" y2="235"/>
<line x1="367.5" y1="253.7" x2="348" y2="263.7"/>
<line x1="387.5" y1="267.5" x2="368.7" y2="278"/>
<line x1="317.5" y1="328" x2="341" y2="341"/>
<line x1="159.3" y1="414.5" x2="138.8" y2="425.5"/>
<line x1="98" y1="444.7" x2="119.3" y2="434"/>
<line x1="127.3" y1="467.3" x2="147.3" y2="455.3"/>
<line x1="159.3" y1="492.7" x2="178.8" y2="482"/>
<line x1="212.7" y1="518.5" x2="227.3" y2="510"/>
<line x1="246" y1="558.7" x2="263.3" y2="547.2"/>
<line x1="266.8" y1="576.5" x2="285.5" y2="564"/>
<line x1="302" y1="577.3" x2="321.5" y2="564.5"/>
<line x1="352.7" y1="529.3" x2="333.2" y2="515.5"/>
<line x1="412.500" y1="411" x2="395" y2="421.300"/>
</g>

<!-- LABELS -->
<g id="labels" style="filter:grayscale(1)">
<text class="t" x="374.5" y="126.5">1</text>
<text class="t" x="521" y="67.5">2</text>
<text class="t" x="546" y="213.7">3</text>
<text class="t" x="503" y="317.7">4</text>
<text class="t" x="522.6" y="368.3">5</text>
<text class="t" x="384.5" y="175.5">13</text>
<text class="t" x="155.9" y="114.3">14</text>
<text class="t" x="294" y="152.3">15</text>
<text class="t" x="230" y="218.3">14</text>
<text class="t" x="416.800" y="224.300">16</text>
<text class="t" x="373.7" y="252.3">12</text>
<text class="t" x="394.5" y="266.8">12</text>
<text class="t" x="313.7" y="326.8">11</text>
<text class="t" x="164.7" y="413.5">10</text>
<text class="t" x="92.7" y="454.3">10</text>
<text class="t" x="121.5" y="478.3">19</text>
<text class="t" x="154" y="502.3">20</text>
<text class="t" x="207.3" y="527.6">9</text>
<text class="t" x="242" y="568.3">8</text>
<text class="t" x="261.5" y="588.3">7</text>
<text class="t" x="294.8" y="587">17</text>
<text class="t" x="357.5" y="539.6">4</text>
<text class="t" x="419" y="411.300">22</text>
</g>
</svg>
</body></html>
